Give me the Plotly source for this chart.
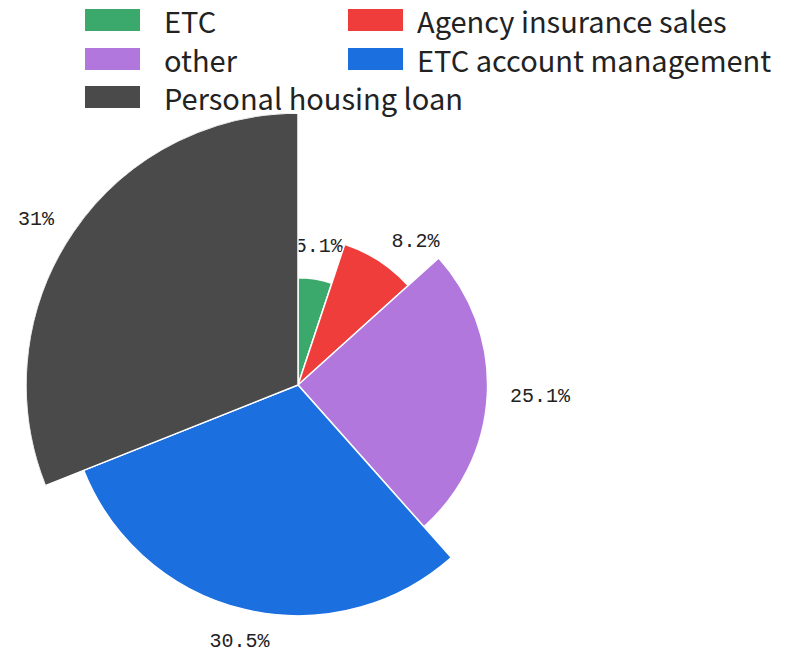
import numpy as np
import plotly.graph_objects as go

# Business share by category (percent)
categories = ["ETC", "Agency insurance sales", "other",
              "ETC account management", "Personal housing loan"]
shares = [5.1, 8.2, 25.1, 30.5, 31.0]
share_labels = ["5.1%", "8.2%", "25.1%", "30.5%", "31%"]
colors = ["#3aa96b", "#ee3d3b", "#b177dd", "#1b6fdf", "#4a4a4a"]

W, H = 801, 662

# Angular span of each sector is proportional to its share
total = sum(shares)
spans = np.array(shares) / total * 360.0
starts = np.concatenate([[0.0], np.cumsum(spans)[:-1]])
mids = starts + spans / 2

# Rose layout: sector radius grows with the rank of the share
rank = np.argsort(np.argsort(shares))
radii = rank + 2.6
r_max = float(radii.max())

fig = go.Figure()

for i, cat in enumerate(categories):
    fig.add_trace(go.Barpolar(
        r=[radii[i]], theta=[mids[i]], width=[spans[i]],
        name=cat,
        marker=dict(color=colors[i], line=dict(color="white", width=1.5)),
        showlegend=False,
        hovertemplate=f"{cat}: {share_labels[i]}<extra></extra>",
    ))

# Outside labels along the middle of each sector; drawn on a cartesian
# overlay sharing the polar centre and scale so they can sit past the rim
lab_r = radii + 0.55
lab_x = lab_r * np.sin(np.radians(mids))
lab_y = lab_r * np.cos(np.radians(mids))
positions = []
for m in mids:
    s = np.sin(np.radians(m))
    c = np.cos(np.radians(m))
    if s > 0.5:
        positions.append("middle right")
    elif s < -0.5:
        positions.append("middle left")
    elif c >= 0:
        positions.append("top center")
    else:
        positions.append("bottom center")

fig.add_trace(go.Scatter(
    x=lab_x, y=lab_y, mode="text",
    text=share_labels, textposition=positions,
    textfont=dict(family="Liberation Mono", size=20, color="#222222"),
    cliponaxis=False,
    showlegend=False, hoverinfo="skip",
))

# Polar area: centre at (298, 385) px, outer radius 272 px
cx, cy, R = 298, 385, 272
px_per_unit = R / r_max
fig.update_layout(
    width=W, height=H,
    margin=dict(l=0, r=0, t=0, b=0),
    paper_bgcolor="white",
    plot_bgcolor="rgba(0,0,0,0)",
    polar=dict(
        domain=dict(x=[(cx - R) / W, (cx + R) / W],
                    y=[(H - cy - R) / H, (H - cy + R) / H]),
        bgcolor="rgba(0,0,0,0)",
        bargap=0,
        angularaxis=dict(rotation=90, direction="clockwise", visible=False,
                         showgrid=False),
        radialaxis=dict(range=[0, r_max], visible=False, showgrid=False),
    ),
    xaxis=dict(range=[-cx / px_per_unit, (W - cx) / px_per_unit],
               visible=False, fixedrange=True),
    yaxis=dict(range=[-(H - cy) / px_per_unit, cy / px_per_unit],
               visible=False, fixedrange=True),
)

# Legend: two columns of colour swatches with names
col_x = [85, 348]
text_x = [162, 415]
row_y = [20, 59, 97]
shapes, annotations = [], []
for i, cat in enumerate(categories):
    col, row = i % 2, i // 2
    yc = row_y[row]
    shapes.append(dict(
        type="rect", xref="paper", yref="paper",
        x0=col_x[col] / W, x1=(col_x[col] + 55) / W,
        y0=1 - (yc + 11) / H, y1=1 - (yc - 11) / H,
        fillcolor=colors[i], line=dict(width=0),
    ))
    annotations.append(dict(
        text=cat, xref="paper", yref="paper",
        x=text_x[col] / W, y=1 - yc / H,
        xanchor="left", yanchor="middle", showarrow=False,
        font=dict(family="Noto Sans CJK SC", size=29, color="#222222"),
    ))

fig.update_layout(shapes=shapes, annotations=annotations)

fig.write_html("out.html")
